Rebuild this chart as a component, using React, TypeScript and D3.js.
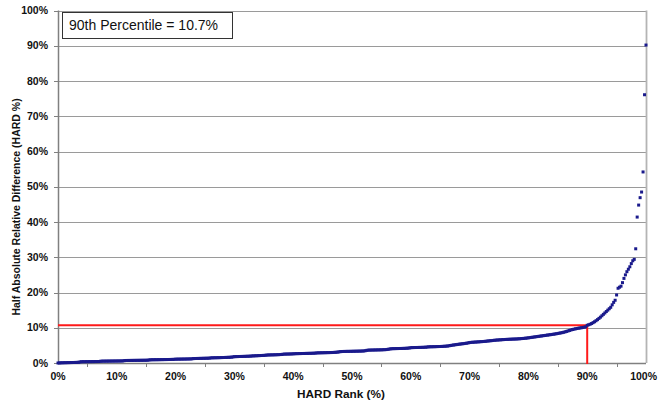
import React from "react";
import * as d3 from "d3";

// HARD values (%) sorted ascending; rank of value i = i / (n - 1) * 100
const hardValues: number[] = [
  0.00, 0.03, 0.05, 0.07, 0.08, 0.09, 0.10, 0.11, 0.12, 0.13, 0.14, 0.15,
  0.16, 0.18, 0.20, 0.30, 0.36, 0.37, 0.37, 0.38, 0.38, 0.39, 0.39, 0.40,
  0.40, 0.41, 0.41, 0.42, 0.42, 0.50, 0.52, 0.53, 0.53, 0.54, 0.54, 0.55,
  0.55, 0.56, 0.56, 0.57, 0.57, 0.58, 0.58, 0.59, 0.60, 0.66, 0.71, 0.72,
  0.72, 0.73, 0.73, 0.74, 0.74, 0.75, 0.75, 0.76, 0.76, 0.77, 0.77, 0.78,
  0.78, 0.80, 0.86, 0.91, 0.92, 0.93, 0.93, 0.94, 0.94, 0.95, 0.96, 0.96,
  0.97, 0.98, 0.98, 0.99, 1.00, 1.01, 1.02, 1.04, 1.08, 1.09, 1.10, 1.10,
  1.11, 1.12, 1.12, 1.13, 1.14, 1.15, 1.16, 1.18, 1.25, 1.27, 1.28, 1.29,
  1.30, 1.31, 1.32, 1.33, 1.34, 1.35, 1.36, 1.38, 1.45, 1.47, 1.48, 1.49,
  1.50, 1.51, 1.52, 1.54, 1.55, 1.56, 1.58, 1.59, 1.61, 1.63, 1.66, 1.72,
  1.80, 1.81, 1.82, 1.84, 1.85, 1.86, 1.87, 1.88, 1.90, 1.91, 1.93, 1.95,
  2.00, 2.02, 2.04, 2.06, 2.08, 2.10, 2.12, 2.14, 2.16, 2.19, 2.25, 2.28,
  2.29, 2.30, 2.31, 2.32, 2.34, 2.35, 2.37, 2.39, 2.42, 2.48, 2.52, 2.53,
  2.54, 2.55, 2.56, 2.58, 2.60, 2.63, 2.65, 2.66, 2.67, 2.68, 2.69, 2.70,
  2.71, 2.72, 2.73, 2.74, 2.75, 2.76, 2.78, 2.80, 2.86, 2.88, 2.89, 2.90,
  2.91, 2.92, 2.93, 2.94, 2.95, 2.96, 2.97, 2.99, 3.01, 3.04, 3.08, 3.14,
  3.22, 3.25, 3.27, 3.28, 3.29, 3.30, 3.30, 3.31, 3.32, 3.33, 3.34, 3.35,
  3.36, 3.37, 3.38, 3.40, 3.42, 3.48, 3.58, 3.64, 3.66, 3.67, 3.68, 3.69,
  3.70, 3.71, 3.72, 3.73, 3.74, 3.76, 3.78, 3.80, 3.85, 3.92, 4.00, 4.05,
  4.07, 4.08, 4.09, 4.10, 4.11, 4.12, 4.13, 4.14, 4.16, 4.18, 4.21, 4.26,
  4.34, 4.37, 4.38, 4.39, 4.40, 4.41, 4.42, 4.43, 4.44, 4.46, 4.48, 4.52,
  4.58, 4.60, 4.61, 4.62, 4.63, 4.64, 4.66, 4.67, 4.68, 4.70, 4.72, 4.75,
  4.78, 4.82, 4.88, 4.96, 5.04, 5.10, 5.16, 5.22, 5.28, 5.34, 5.40, 5.45,
  5.50, 5.56, 5.62, 5.70, 5.80, 5.85, 5.88, 5.91, 5.94, 5.97, 6.00, 6.03,
  6.06, 6.09, 6.12, 6.16, 6.22, 6.27, 6.31, 6.35, 6.40, 6.45, 6.49, 6.52,
  6.55, 6.58, 6.61, 6.64, 6.67, 6.69, 6.71, 6.73, 6.75, 6.77, 6.79, 6.80,
  6.82, 6.85, 6.88, 6.91, 6.95, 6.99, 7.03, 7.08, 7.14, 7.20, 7.26, 7.32,
  7.38, 7.44, 7.50, 7.56, 7.62, 7.68, 7.74, 7.80, 7.86, 7.92, 7.98, 8.04,
  8.10, 8.16, 8.23, 8.30, 8.38, 8.46, 8.54, 8.62, 8.72, 8.84, 8.96, 9.10,
  9.24, 9.38, 9.50, 9.60, 9.70, 9.78, 9.86, 9.94, 10.00, 10.08, 10.16, 10.26,
  10.70, 10.85, 11.00, 11.20, 11.45, 11.70, 12.00, 12.30, 12.65, 13.00, 13.40, 13.80,
  14.20, 14.60, 15.00, 15.40, 15.80, 16.50, 17.20, 17.80, 19.30, 21.20, 21.50, 21.80,
  22.80, 24.00, 25.00, 25.90, 26.60, 27.30, 28.20, 29.00, 29.40, 32.40, 41.40, 44.80,
  46.90, 48.50, 54.20, 76.10, 90.20,
];

const yTicks: number[] = [0, 10, 20, 30, 40, 50, 60, 70, 80, 90, 100];
const xLabelTicks: number[] = [0, 10, 20, 30, 40, 50, 60, 70, 80, 90, 100];
const xMinorTicks: number[] = [5, 15, 25, 35, 45, 55, 65, 75, 85, 95];

const percentileRank = 90;
const percentileValue = 10.7;
const annotationText = "90th Percentile = 10.7%";
const xTitle = "HARD Rank (%)";
const yTitle = "Half Absolute Relative Difference (HARD %)";

const W = 658;
const H = 405;
const M = { left: 58, right: 646, top: 10.5, bottom: 363 };
const FONT = "'Liberation Sans', Arial, Helvetica, sans-serif";

export default function App() {
  const x = d3.scaleLinear().domain([0, 100]).range([M.left, M.right]);
  const y = d3.scaleLinear().domain([0, 100]).range([M.bottom, M.top]);
  const n = hardValues.length;
  const points = hardValues.map((v, i) => ({ rank: (i / (n - 1)) * 100, v }));

  return (
    <svg
      width={W}
      height={H}
      style={{ position: "absolute", left: 0, top: 0, background: "#fff" }}
      fontFamily={FONT}
    >
      <rect x={0} y={0} width={W} height={H} fill="#fff" />
      {/* gridlines */}
      {yTicks.map((t) => (
        <line
          key={"g" + t}
          x1={M.left}
          x2={M.right}
          y1={Math.round(y(t)) + 0.5}
          y2={Math.round(y(t)) + 0.5}
          stroke="#9a9a9a"
          strokeWidth={1.2}
        />
      ))}
      {/* right border */}
      <line x1={M.right + 0.5} x2={M.right + 0.5} y1={y(100)} y2={M.bottom} stroke="#b4b4b4" strokeWidth={1.8} />
      {/* axes */}
      <line x1={M.left + 0.5} x2={M.left + 0.5} y1={y(100)} y2={M.bottom + 0.5} stroke="#808080" strokeWidth={1.5} />
      <line x1={M.left} x2={M.right} y1={M.bottom + 0.5} y2={M.bottom + 0.5} stroke="#808080" strokeWidth={1.5} />
      {yTicks.map((t) => (
        <g key={"yt" + t}>
          <line
            x1={M.left - 4}
            x2={M.left}
            y1={Math.round(y(t)) + 0.5}
            y2={Math.round(y(t)) + 0.5}
            stroke="#808080"
            strokeWidth={1}
          />
          <text
            x={48}
            y={y(t)}
            dy="0.35em"
            textAnchor="end"
            fontSize={10.5}
            fontWeight="bold"
            fill="#111"
          >
            {t + "%"}
          </text>
        </g>
      ))}
      {xMinorTicks.map((t) => (
        <line
          key={"xm" + t}
          x1={Math.round(x(t)) + 0.5}
          x2={Math.round(x(t)) + 0.5}
          y1={M.bottom}
          y2={M.bottom + 4}
          stroke="#808080"
          strokeWidth={1}
        />
      ))}
      {xLabelTicks.map((t) => {
        const last = t === 100;
        return (
          <text
            key={"xl" + t}
            x={last ? W - 1 : x(t)}
            y={380}
            textAnchor={last ? "end" : "middle"}
            fontSize={10.5}
            fontWeight="bold"
            fill="#111"
          >
            {t + "%"}
          </text>
        );
      })}
      {/* titles */}
      <text x={341} y={398} textAnchor="middle" fontSize={11.8} fontWeight="bold" fill="#111">
        {xTitle}
      </text>
      <text
        transform={`translate(19.5, 207) rotate(-90)`}
        textAnchor="middle"
        fontSize={10.5}
        fontWeight="bold"
        fill="#111"
      >
        {yTitle}
      </text>
      {/* percentile lines */}
      <line
        x1={M.left}
        x2={x(percentileRank)}
        y1={y(percentileValue)}
        y2={y(percentileValue)}
        stroke="#ff1a1a"
        strokeWidth={2}
      />
      <line
        x1={x(percentileRank)}
        x2={x(percentileRank)}
        y1={y(percentileValue)}
        y2={M.bottom + 1}
        stroke="#ff1a1a"
        strokeWidth={2}
      />
      {/* data markers */}
      {points.map((p, i) => (
        <rect
          key={"p" + i}
          x={x(p.rank) - 1.5}
          y={y(p.v) - 1.5}
          width={3}
          height={3}
          fill="#1a1a8c"
        />
      ))}
      {/* annotation box */}
      <rect x={62.5} y={12.5} width={170} height={26} fill="#fff" stroke="#333" strokeWidth={1} />
      <text x={69} y={30} fontSize={14} fill="#111">
        {annotationText}
      </text>
    </svg>
  );
}
